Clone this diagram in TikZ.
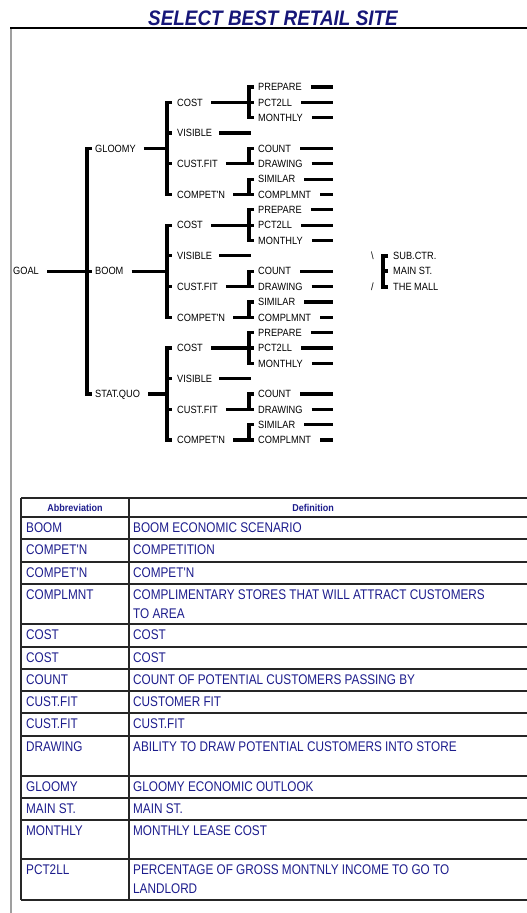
\documentclass[tikz,border=0pt]{standalone}
\usepackage{fontspec}
\setmainfont{Liberation Sans}
\newfontfamily\treefont[FakeStretch=0.88]{Liberation Sans}
\newfontfamily\tabfont[FakeStretch=0.84]{Liberation Sans}
\newfontfamily\headfont[FakeStretch=0.9]{Liberation Sans}
\usepackage{tikz}
\usetikzlibrary{positioning}
\definecolor{navy}{RGB}{28,28,140}
\definecolor{titleblue}{RGB}{22,22,120}

\begin{document}
\begin{tikzpicture}[x=1pt, y=-1pt,
    lbl/.style={anchor=west, inner sep=0pt, text height=7.5pt, text depth=0pt,
                font=\treefont\fontsize{10.5}{12}\selectfont},
    tie/.style={line width=3.2pt},
    grid/.style={line width=1.2pt, black!85},
    cell/.style={anchor=north west, inner sep=0pt, text=navy, align=left,
                 font=\tabfont\fontsize{14}{18.5}\selectfont},
    head/.style={inner sep=0pt, text=navy, font=\headfont\bfseries\fontsize{10}{12}\selectfont}]
  \def\rowh{15.35}  \def\ytop{87}
  \useasboundingbox (0,0) rectangle (527,913);

  % --- titel + rahmen ---
  \node[font=\headfont\bfseries\itshape\fontsize{21}{24}\selectfont, text=titleblue]
    (title) at (273,18) {SELECT BEST RETAIL SITE};
  \draw[gray!75, line width=2pt] (11,28) -- (11,913);
  \draw[line width=1.2pt] (10,28) -- (527,28);

  % --- GOAL ---
  \node[lbl] (goal) at (13,{\ytop+12*\rowh}) {GOAL};
  \node[lbl] (gloomy) at (95,{\ytop+4*\rowh}) {GLOOMY};
  \node[lbl] (boom) at (95,{\ytop+12*\rowh}) {BOOM};
  \node[lbl] (statquo) at (95,{\ytop+20*\rowh}) {STAT.QUO};
  \draw[tie] ([xshift=-3pt]gloomy.west) -- ([xshift=-8pt]gloomy.west)
    -- ([xshift=-8pt]statquo.west) -- ([xshift=-3pt]statquo.west);
  \draw[tie, shorten <=8pt] (goal.east) -- ([xshift=-3pt]boom.west);

  % bar ends
  \coordinate (barend) at (333,0);
  \coordinate (visend) at (251,0);

  % --- szenarien ---
  \foreach \g/\b in {gloomy/0, boom/8, statquo/16} {
    % ebene 2
    \node[lbl] (cost\g) at (177,{\ytop+(\b+1)*\rowh}) {COST};
    \node[lbl] (visible\g) at (177,{\ytop+(\b+3)*\rowh}) {VISIBLE};
    \node[lbl] (custfit\g) at (177,{\ytop+(\b+5)*\rowh}) {CUST.FIT};
    \node[lbl] (competn\g) at (177,{\ytop+(\b+7)*\rowh}) {COMPET'N};
    \coordinate (bx\g) at (167,{\ytop+(\b+1)*\rowh});
    \draw[tie] ([xshift=-5pt]cost\g.west) -- (bx\g)
      -- (bx\g |- competn\g.west) -- ([xshift=-5pt]competn\g.west);
    \draw[tie] (bx\g |- visible\g.west) -- ([xshift=-5pt]visible\g.west);
    \draw[tie] (bx\g |- custfit\g.west) -- ([xshift=-5pt]custfit\g.west);
    \draw[tie, shorten <=8pt] (\g.east) -- (\g.east -| bx\g);
    \draw[tie, shorten <=7pt] (visible\g.east) -- (visible\g.east -| visend);

    % ebene 3
    \node[lbl] (prepare\g) at (258,{\ytop+\b*\rowh}) {PREPARE};
    \node[lbl] (pctll\g) at (258,{\ytop+(\b+1)*\rowh}) {PCT2LL};
    \node[lbl] (monthly\g) at (258,{\ytop+(\b+2)*\rowh}) {MONTHLY};
    \node[lbl] (count\g) at (258,{\ytop+(\b+4)*\rowh}) {COUNT};
    \node[lbl] (drawing\g) at (258,{\ytop+(\b+5)*\rowh}) {DRAWING};
    \node[lbl] (similar\g) at (258,{\ytop+(\b+6)*\rowh}) {SIMILAR};
    \node[lbl] (complmnt\g) at (258,{\ytop+(\b+7)*\rowh}) {COMPLMNT};

    \draw[tie] ([xshift=-4pt]prepare\g.west) -- ([xshift=-9pt]prepare\g.west)
      -- ([xshift=-9pt]monthly\g.west) -- ([xshift=-4pt]monthly\g.west);
    \draw[tie, shorten <=8pt] (cost\g.east) -- ([xshift=-4pt]pctll\g.west);
    \draw[tie] ([xshift=-4pt]count\g.west) -- ([xshift=-9pt]count\g.west)
      -- ([xshift=-9pt]drawing\g.west);
    \draw[tie, shorten <=8pt] (custfit\g.east) -- ([xshift=-4pt]drawing\g.west);
    \draw[tie] ([xshift=-4pt]similar\g.west) -- ([xshift=-9pt]similar\g.west)
      -- ([xshift=-9pt]complmnt\g.west);
    \draw[tie, shorten <=8pt] (competn\g.east) -- ([xshift=-4pt]complmnt\g.west);

    % blaetter
    \foreach \leaf in {prepare,pctll,monthly,count,drawing,similar,complmnt}
      \draw[tie, shorten <=9pt] (\leaf\g.east) -- (\leaf\g.east -| barend);
  }

  % --- alternativen ---
  \node[lbl] (subctr) at (393,{\ytop+11*\rowh}) {SUB.CTR.};
  \node[lbl] (mainst) at (393,{\ytop+12*\rowh}) {MAIN ST.};
  \node[lbl] (themall) at (393,{\ytop+13*\rowh}) {THE MALL};
  \node[lbl] (bslash) at (371,{\ytop+11*\rowh}) {\textbackslash};
  \node[lbl] (slash) at (371,{\ytop+13*\rowh}) {/};
  \draw[line width=4pt] ([xshift=-5pt]subctr.west) -- ([xshift=-10pt]subctr.west)
    -- ([xshift=-10pt]themall.west) -- ([xshift=-5pt]themall.west);
  \draw[line width=4pt] ([xshift=-10pt]mainst.west) -- ([xshift=-5pt]mainst.west);

  % --- tabelle ---
  \foreach \y in {498,517,539,562,584,624,647,669,691,713,736,776,798,820,859,900}
    \draw[grid] (21,\y) -- (527,\y);
  \draw[grid] (21,498) -- (21,900);
  \draw[grid] (129,498) -- (129,900);
  \node[head] (habbr) at (75,507.5) {Abbreviation};
  \node[head] (hdef) at (313,507.5) {Definition};
  \foreach \y/\a/\d [count=\i] in {
      517/BOOM/{BOOM ECONOMIC SCENARIO},
      539/COMPET'N/{COMPETITION},
      562/COMPET'N/{COMPET'N},
      584/COMPLMNT/{COMPLIMENTARY STORES THAT WILL ATTRACT CUSTOMERS\\TO AREA},
      624/COST/{COST},
      647/COST/{COST},
      669/COUNT/{COUNT OF POTENTIAL CUSTOMERS PASSING BY},
      691/CUST.FIT/{CUSTOMER FIT},
      713/CUST.FIT/{CUST.FIT},
      736/DRAWING/{ABILITY TO DRAW POTENTIAL CUSTOMERS INTO STORE},
      776/GLOOMY/{GLOOMY ECONOMIC OUTLOOK},
      798/MAIN ST./{MAIN ST.},
      820/MONTHLY/{MONTHLY LEASE COST},
      859/PCT2LL/{PERCENTAGE OF GROSS MONTNLY INCOME TO GO TO\\LANDLORD}} {
    \node[cell] (abbr\i) at (26,\y+6) {\a};
    \node[cell] (def\i) at (133,\y+6) {\d};
  }
\end{tikzpicture}
\end{document}
